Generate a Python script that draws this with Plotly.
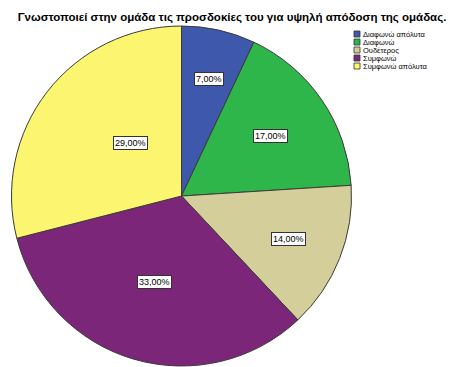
import math
import plotly.graph_objects as go

categories = ["Διαφωνώ απόλυτα", "Διαφωνώ", "Ουδέτερος", "Συμφωνώ", "Συμφωνώ απόλυτα"]
values = [7, 17, 14, 33, 29]
labels = ["7,00%", "17,00%", "14,00%", "33,00%", "29,00%"]
colors = ["#3E58AC", "#2FB64B", "#D4CF9A", "#7B2679", "#FBF56F"]
title = "Γνωστοποιεί στην ομάδα τις προσδοκίες του για υψηλή απόδοση της ομάδας."

# style: radial placement of each label box (fraction of radius)
label_radius = [0.75, 0.63, 0.68, 0.57, 0.51]

W, H = 455, 367
CX, CY, R = 181.5, 196.0, 170.0
dom_x = [(CX - R) / W, (CX + R) / W]
dom_y = [1 - (CY + R) / H, 1 - (CY - R) / H]

fig = go.Figure(go.Pie(
    labels=categories, values=values, sort=False, direction="clockwise", rotation=0,
    marker=dict(colors=colors, line=dict(color="#3a3a3a", width=1)),
    textinfo="none", hoverinfo="label+percent", showlegend=False,
    domain=dict(x=dom_x, y=dom_y),
))

font = "Liberation Sans, Arial"

# label boxes placed along each slice's mid-angle
total = sum(values)
cum = 0
for v, t, rf in zip(values, labels, label_radius):
    mid = 2 * math.pi * (cum + v / 2) / total
    cum += v
    d = R * rf
    x = CX + d * math.sin(mid)
    y = CY - d * math.cos(mid)
    fig.add_annotation(x=x / W, y=1 - y / H, xref="paper", yref="paper", text=t,
                       showarrow=False, font=dict(family=font, size=9, color="#000"),
                       bgcolor="#ffffff", bordercolor="#333333", borderwidth=1, borderpad=1)

# compact legend
for i, (c, name) in enumerate(zip(colors, categories)):
    yc = 34 + 8 * i
    fig.add_shape(type="rect", xref="paper", yref="paper",
                  x0=354 / W, x1=360 / W, y0=1 - (yc + 3) / H, y1=1 - (yc - 3) / H,
                  fillcolor=c, line=dict(color="#333333", width=0.8))
    fig.add_annotation(x=361 / W, y=1 - yc / H, xref="paper", yref="paper", text=name,
                       xanchor="left", yanchor="middle", showarrow=False,
                       font=dict(family=font, size=7.5, color="#000"))

fig.update_layout(
    width=W, height=H, margin=dict(l=0, r=0, t=0, b=0),
    paper_bgcolor="#ffffff", plot_bgcolor="#ffffff",
    title=dict(text="<b>" + title + "</b>", x=232 / W, xanchor="center", y=1 - 17 / H, yanchor="middle",
               font=dict(family=font, size=11.5, color="#000")),
    showlegend=False,
)

fig.write_html("out.html")
